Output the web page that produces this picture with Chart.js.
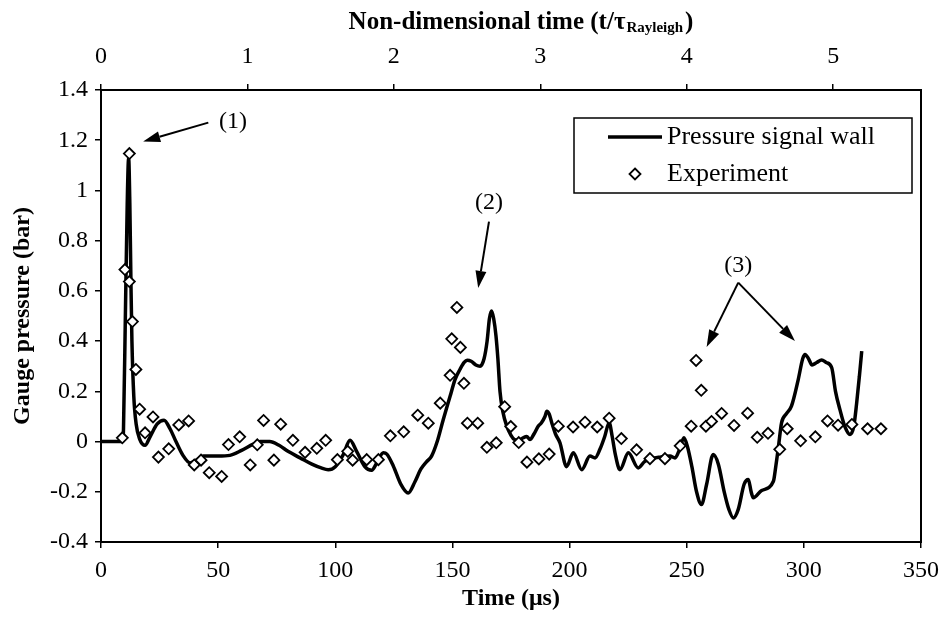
<!DOCTYPE html>
<html><head><meta charset="utf-8">
<script src="https://cdn.jsdelivr.net/npm/chart.js@4/dist/chart.umd.min.js"></script>
<style>html,body{margin:0;padding:0;background:#fff}#wrap{width:941px;height:621px}</style>
</head><body><div id="wrap"><canvas id="c" width="941" height="621"></canvas></div>
<script>
// ---- Data ----
const LINE_T = [0,9.2,9.6,10.4,11.2,11.8,12.3,12.8,13.2,14.0,15.0,16.5,18.8,21,24,26.9,29.5,32,35,38,40.5,43.7,50,55,60,65,68,72,76,80,85,90,94,97,100,103.4,106.3,109.1,112.7,115.5,118,120.5,122,124.8,128,131.1,134,136.5,139,141.1,143.5,146.1,149,151.1,153.2,155,156.3,158,160,161.8,163.5,164.8,165.8,166.7,167.6,168.6,169.4,170.3,171.5,173.2,175,176.5,178.5,180.2,181.7,183.1,184.8,186.6,188,189.5,190.3,191.3,192.4,194,195.9,198.7,201.6,205.2,208.7,210.9,213,215,216.9,218.2,219.5,221.5,225.1,229.3,232,234.3,238.6,242.9,245,247,248.8,250.3,252.2,254.2,256.3,258.5,261.3,263.5,266,268,269.9,272,274.5,276.3,277.5,278.4,282,287,288,289.1,290.5,292.5,294.7,297.6,299.5,300.5,302,303.5,305.5,307.6,309.5,311.9,313.5,315.4,317.5,319.7,321.3,322.5,323.7,324.7];
const LINE_P = [0,0,0.05,0.5,0.95,1.13,0.95,0.62,0.4,0.18,0.07,0.01,-0.015,0.02,0.07,0.085,0.05,0.0,-0.055,-0.085,-0.075,-0.058,-0.058,-0.055,-0.035,-0.01,0.0,0.0,-0.015,-0.04,-0.065,-0.09,-0.105,-0.112,-0.1,-0.052,0.005,-0.039,-0.101,-0.114,-0.08,-0.045,-0.05,-0.098,-0.17,-0.205,-0.16,-0.11,-0.08,-0.058,0.0,0.088,0.18,0.247,0.287,0.315,0.324,0.32,0.305,0.3,0.33,0.4,0.49,0.52,0.49,0.42,0.33,0.2,0.12,0.061,0.025,0.008,0.005,0.015,0.02,0.008,0.03,0.061,0.075,0.1,0.121,0.11,0.075,0.03,-0.005,-0.1,-0.045,-0.112,-0.058,-0.065,-0.03,0.02,0.075,0.02,-0.05,-0.112,-0.045,-0.105,-0.08,-0.07,-0.062,-0.058,-0.065,-0.03,0.015,-0.02,-0.1,-0.2,-0.251,-0.17,-0.052,-0.09,-0.2,-0.27,-0.304,-0.27,-0.17,-0.151,-0.2,-0.224,-0.195,-0.158,-0.1,-0.025,0.075,0.11,0.141,0.247,0.33,0.347,0.33,0.305,0.315,0.325,0.315,0.294,0.2,0.127,0.06,0.028,0.06,0.15,0.26,0.36];
const EXP_T = [9.1,10.2,12.1,12.1,13.4,14.9,16.5,18.8,22.2,24.5,28.9,33.2,37.4,39.8,42.7,46.2,51.5,54.4,59.2,63.7,66.7,69.4,73.8,76.7,81.9,87.1,92.1,95.9,100.9,105.3,107.4,113.4,118.4,123.5,129.2,135.2,139.7,144.8,149.0,149.7,151.9,153.4,154.9,156.4,160.8,164.7,168.7,172.3,174.9,178.3,181.8,186.9,191.3,195.2,201.5,206.6,211.8,216.9,222.1,228.6,234.3,240.7,247.2,251.9,254.0,256.2,258.2,260.6,264.9,270.2,276.0,280.1,284.7,289.7,292.9,298.6,304.9,310.1,314.6,320.5,327.2,332.9];
const EXP_P = [0.015,0.685,1.147,0.637,0.478,0.287,0.129,0.035,0.098,-0.062,-0.029,0.066,0.082,-0.093,-0.074,-0.124,-0.139,-0.012,0.019,-0.093,-0.013,0.084,-0.074,0.069,0.005,-0.043,-0.027,0.005,-0.072,-0.039,-0.074,-0.072,-0.072,0.023,0.039,0.105,0.073,0.153,0.264,0.409,0.534,0.375,0.232,0.073,0.073,-0.023,-0.005,0.139,0.06,-0.004,-0.082,-0.069,-0.05,0.061,0.058,0.077,0.058,0.093,0.012,-0.033,-0.068,-0.068,-0.017,0.061,0.323,0.204,0.061,0.08,0.112,0.064,0.113,0.017,0.033,-0.031,0.051,0.003,0.019,0.082,0.065,0.068,0.051,0.051];
const X_TICKS = [0,50,100,150,200,250,300,350];
const Y_TICKS = [-0.4,-0.2,0,0.2,0.4,0.6,0.8,1,1.2,1.4];
const TAU_TICKS = [0,1,2,3,4,5];
const TAU_RAYLEIGH = 62.5; // μs per non-dimensional unit
const SERIES_NAMES = ['Pressure signal wall','Experiment'];
const X_TITLE = 'Time (μs)';
const Y_TITLE = 'Gauge pressure (bar)';
const TOP_TITLE = ['Non-dimensional time (t/τ','Rayleigh',')'];
// annotation labels in data units (μs, bar)
const NOTES = [
  {label:'(1)', at:[56.3,1.275], arrows:[[[45.8,1.27],[18.0,1.195]]]},
  {label:'(2)', at:[165.6,0.952], arrows:[[[165.6,0.876],[161.0,0.612]]]},
  {label:'(3)', at:[272,0.701], arrows:[[[272,0.633],[258.5,0.377]],[[272,0.633],[296.2,0.40]]]}
];

const FONT = "'Liberation Serif','Times New Roman',serif";
const toXY = (xs, ys) => xs.map((x,i)=>({x:x, y:ys[i]}));

const decor = {
  id:'decor',
  afterDraw(chart){
    const ctx = chart.ctx, a = chart.chartArea, sx = chart.scales.x, sy = chart.scales.y;
    ctx.save();
    // frame
    ctx.strokeStyle='#000'; ctx.lineWidth=2;
    ctx.strokeRect(a.left, a.top, a.right-a.left, a.bottom-a.top);
    // top title with subscript
    const big = 'bold 25px '+FONT, small = 'bold 15px '+FONT;
    ctx.fillStyle='#000'; ctx.textBaseline='alphabetic'; ctx.textAlign='left';
    ctx.font=big; const w1=ctx.measureText(TOP_TITLE[0]).width, w3=ctx.measureText(TOP_TITLE[2]).width;
    ctx.font=small; const w2=ctx.measureText(TOP_TITLE[1]).width;
    let x0 = (a.left+a.right)/2 + 10 - (w1+w2+w3+3)/2, by = 29;
    ctx.font=big; ctx.fillText(TOP_TITLE[0], x0, by);
    ctx.font=small; ctx.fillText(TOP_TITLE[1], x0+w1+1, by+3);
    ctx.font=big; ctx.fillText(TOP_TITLE[2], x0+w1+w2+3, by);
    // legend
    const lx = a.right-347, ly = a.top+28, lw = 338, lh = 75;
    ctx.lineWidth=1.5; ctx.strokeStyle='#000';
    ctx.strokeRect(lx, ly, lw, lh);
    ctx.lineWidth=3.5; ctx.beginPath(); ctx.moveTo(lx+34, ly+19); ctx.lineTo(lx+88, ly+19); ctx.stroke();
    const dx = lx+61, dy = ly+56, r=5.5;
    ctx.lineWidth=1.8; ctx.fillStyle='#fff'; ctx.beginPath();
    ctx.moveTo(dx,dy-r); ctx.lineTo(dx+r,dy); ctx.lineTo(dx,dy+r); ctx.lineTo(dx-r,dy); ctx.closePath(); ctx.fill(); ctx.stroke();
    ctx.fillStyle='#000'; ctx.font='26px '+FONT; ctx.textBaseline='middle';
    ctx.fillText(SERIES_NAMES[0], lx+93, ly+19);
    ctx.fillText(SERIES_NAMES[1], lx+93, ly+56);
    // annotations
    ctx.font='24px '+FONT; ctx.textAlign='center'; ctx.textBaseline='middle';
    NOTES.forEach(n=>{
      ctx.fillText(n.label, sx.getPixelForValue(n.at[0]), sy.getPixelForValue(n.at[1]));
      n.arrows.forEach(([s,t])=>{
        const x1=sx.getPixelForValue(s[0]), y1=sy.getPixelForValue(s[1]);
        const x2=sx.getPixelForValue(t[0]), y2=sy.getPixelForValue(t[1]);
        const ang=Math.atan2(y2-y1,x2-x1), L=17, H=5.5;
        const bx=x2-L*Math.cos(ang), byy=y2-L*Math.sin(ang);
        ctx.lineWidth=2; ctx.strokeStyle='#000';
        ctx.beginPath(); ctx.moveTo(x1,y1); ctx.lineTo(bx,byy); ctx.stroke();
        ctx.beginPath(); ctx.moveTo(x2,y2);
        ctx.lineTo(bx+H*Math.sin(ang), byy-H*Math.cos(ang));
        ctx.lineTo(bx-H*Math.sin(ang), byy+H*Math.cos(ang));
        ctx.closePath(); ctx.fillStyle='#000'; ctx.fill();
      });
    });
    ctx.restore();
  }
};

const tickFont = {family:FONT, size:24};
const gridOpts = {drawOnChartArea:false, drawTicks:true, tickLength:6, color:'#000', lineWidth:1.5};
const borderOpts = {display:true, color:'#000', width:2};
const noPad = s => { s.paddingLeft = 0; s.paddingRight = 0; };

new Chart(document.getElementById('c'), {
  data:{datasets:[
    {type:'line', label:SERIES_NAMES[0], data:toXY(LINE_T,LINE_P), borderColor:'#000', borderWidth:3.5,
     pointRadius:0, cubicInterpolationMode:'monotone', fill:false, order:2, xAxisID:'x', yAxisID:'y'},
    {type:'scatter', label:SERIES_NAMES[1], data:toXY(EXP_T,EXP_P), pointStyle:'rectRot', pointRadius:5.5,
     borderColor:'#000', backgroundColor:'#fff', borderWidth:1.8, order:1, xAxisID:'x', yAxisID:'y'}
  ]},
  options:{
    responsive:false, animation:false, devicePixelRatio:1,
    layout:{padding:{left:0,right:20,top:0,bottom:0}},
    plugins:{legend:{display:false}, tooltip:{enabled:false}},
    scales:{
      x:{type:'linear', position:'bottom', min:0, max:350,
        afterBuildTicks:s=>{s.ticks=X_TICKS.map(v=>({value:v}));},
        afterFit:s=>{s.height=79; noPad(s);},
        ticks:{font:tickFont, color:'#000', padding:8, maxRotation:0, autoSkip:false},
        grid:gridOpts, border:borderOpts,
        title:{display:true, text:X_TITLE, color:'#000', font:{family:FONT, size:24, weight:'bold'}, padding:{top:0,bottom:8}}},
      x2:{type:'linear', position:'top', min:0, max:350/TAU_RAYLEIGH,
        afterBuildTicks:s=>{s.ticks=TAU_TICKS.map(v=>({value:v}));},
        afterFit:s=>{s.height=90; noPad(s);},
        ticks:{font:tickFont, color:'#000', padding:13, maxRotation:0, autoSkip:false, callback:v=>String(v)},
        grid:gridOpts, border:borderOpts},
      y:{type:'linear', position:'left', min:-0.4, max:1.4,
        afterBuildTicks:s=>{s.ticks=Y_TICKS.map(v=>({value:v}));},
        afterFit:s=>{s.width=101;},
        ticks:{font:tickFont, color:'#000', padding:7, autoSkip:false, callback:v=>String(Number(v.toFixed(1)))},
        grid:gridOpts, border:borderOpts,
        title:{display:true, text:Y_TITLE, color:'#000', font:{family:FONT, size:24, weight:'bold'}, padding:{top:8,bottom:0}}}
    }
  },
  plugins:[decor]
});
</script></body></html>
